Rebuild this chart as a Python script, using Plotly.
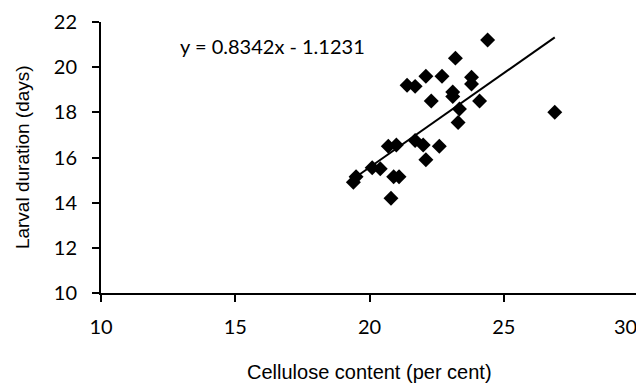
import plotly.graph_objects as go

# Data
cellulose = [19.4, 19.5, 20.1, 20.4, 20.7, 21.0, 20.9, 21.1, 20.8, 21.4,
             21.7, 22.1, 21.7, 22.0, 22.1, 22.3, 22.6, 22.7, 23.2, 23.1,
             23.1, 23.35, 23.3, 23.8, 23.8, 24.1, 24.4, 26.9]
larval_days = [14.9, 15.15, 15.55, 15.5, 16.5, 16.55, 15.15, 15.15, 14.2, 19.2,
               19.15, 19.6, 16.75, 16.55, 15.9, 18.5, 16.5, 19.6, 20.4, 18.9,
               18.7, 18.15, 17.55, 19.55, 19.25, 18.5, 21.2, 18.0]

# Linear trendline coefficients (as printed on the chart)
slope = 0.8342
intercept = -1.1231
equation_label = "y = 0.8342x - 1.1231"

x_tickvals = [10, 15, 20, 25, 30]
x_ticktext = ["10", "15", "20", "25", "30"]
y_tickvals = [10, 12, 14, 16, 18, 20, 22]

x_title = "Cellulose content (per cent)"
y_title = "Larval duration (days)"

trend_x = [min(cellulose), max(cellulose)]
trend_y = [slope * v + intercept for v in trend_x]

fig = go.Figure()
fig.add_trace(go.Scatter(
    x=cellulose, y=larval_days, mode="markers",
    marker=dict(symbol="diamond", size=11.5, color="black", line=dict(width=0)),
    showlegend=False, hoverinfo="skip",
))
fig.add_trace(go.Scatter(
    x=trend_x, y=trend_y, mode="lines",
    line=dict(color="black", width=2),
    showlegend=False, hoverinfo="skip",
))

tick_font = dict(family="Lato, 'Open Sans', sans-serif", size=20, color="black")

# the last x tick label is drawn right-aligned to its tick so it stays inside the chart
axis_ticktext = x_ticktext[:-1] + [""]
last_label = dict(text=x_ticktext[-1], xref="x", yref="paper",
                  x=x_tickvals[-1], y=-0.121, xanchor="right", yanchor="middle",
                  xshift=0, showarrow=False, font=tick_font, borderpad=0)

# page body has an 8px default margin, so the figure is 8px smaller
fig.update_layout(
    width=636, height=379,
    margin=dict(l=93, r=6, t=14, b=94, autoexpand=False),
    paper_bgcolor="white", plot_bgcolor="white",
    xaxis=dict(
        range=[10, 30], tickvals=x_tickvals, ticktext=axis_ticktext,
        showgrid=False, zeroline=False, showline=True,
        linecolor="black", linewidth=2,
        ticks="outside", ticklen=7, tickwidth=1.5, tickcolor="black",
        tickfont=tick_font, ticklabelstandoff=8, automargin=False,
    ),
    yaxis=dict(
        range=[10, 22], tickvals=y_tickvals,
        showgrid=False, zeroline=False, showline=True,
        linecolor="black", linewidth=2,
        ticks="outside", ticklen=7, tickwidth=1.5, tickcolor="black",
        tickfont=tick_font, ticklabelstandoff=11, automargin=False,
    ),
    annotations=[
        last_label,
        dict(text=x_title, xref="paper", yref="paper", x=0.5, y=-0.29,
             xanchor="center", yanchor="middle", showarrow=False,
             font=dict(family="Liberation Sans, Arial, sans-serif", size=20, color="black")),
        dict(text=y_title, xref="paper", yref="paper", x=-0.146, y=0.5,
             xanchor="center", yanchor="middle", showarrow=False, textangle=-90,
             font=dict(family="Liberation Sans, Arial, sans-serif", size=19, color="black")),
        dict(text=equation_label, xref="paper", yref="paper", x=0.32, y=0.91,
             xanchor="center", yanchor="middle", showarrow=False,
             font=dict(family="Lato, 'Open Sans', sans-serif", size=20, color="black")),
    ],
)

fig.write_html("out.html")
